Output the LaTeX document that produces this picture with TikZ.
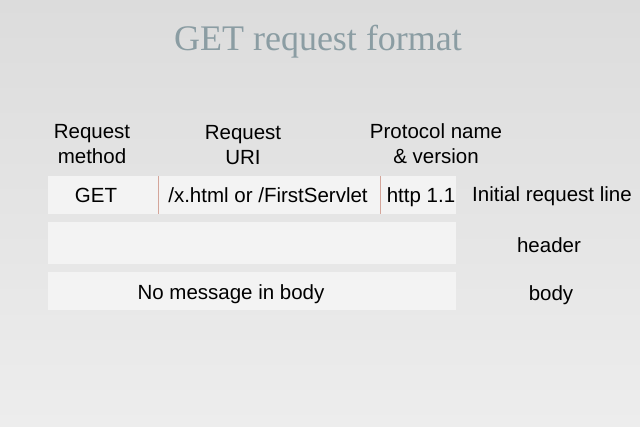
\documentclass[tikz,border=0pt]{standalone}
\usepackage{fontspec}
\setmainfont{Liberation Sans}
\newfontfamily\titlefont{Liberation Serif}
\begin{document}
\begin{tikzpicture}[x=1pt,y=-1pt,
  lbl/.style={font=\fontsize{20.5}{25}\selectfont,text=black,align=center},
  one/.style={lbl,anchor=base},
  sep/.style={draw=sepred,line width=0.5pt}]
\definecolor{bgtop}{HTML}{DCDCDC}
\definecolor{bgbot}{HTML}{EDEDED}
\definecolor{rowfill}{HTML}{F3F3F3}
\definecolor{sepred}{HTML}{D4A59A}
\definecolor{titlec}{HTML}{8B9DA3}
\shade[top color=bgtop,bottom color=bgbot] (0,0) rectangle (640,427);
\useasboundingbox (0,0) rectangle (640,427);
\node[text=titlec,font=\titlefont\fontsize{36}{40}\selectfont] (title) at (318,42) {GET request format};
\node[lbl] (hm) at (92,144) {Request\\method};
\node[lbl] (hu) at (243,145) {Request\\URI};
\node[lbl] (hp) at (436,144) {Protocol name\\\& version};
\fill[rowfill] (48,176) rectangle (456,214);
\fill[rowfill] (48,222) rectangle (456,264);
\fill[rowfill] (48,272) rectangle (456,310);
\draw[sep] (158,176) -- (158,214);
\draw[sep] (380,176) -- (380,214);
\node[one] (get) at (96,203) {GET};
\node[one] (uri) at (268,203) {/x.html or /FirstServlet};
\node[one] (ver) at (421,203) {http 1.1};
\node[one] (body) at (231,300) {No message in body};
\node[one] (r1) at (552,202) {Initial request line};
\node[one] (r2) at (549,253) {header};
\node[one] (r3) at (551,301) {body};
\end{tikzpicture}
\end{document}
